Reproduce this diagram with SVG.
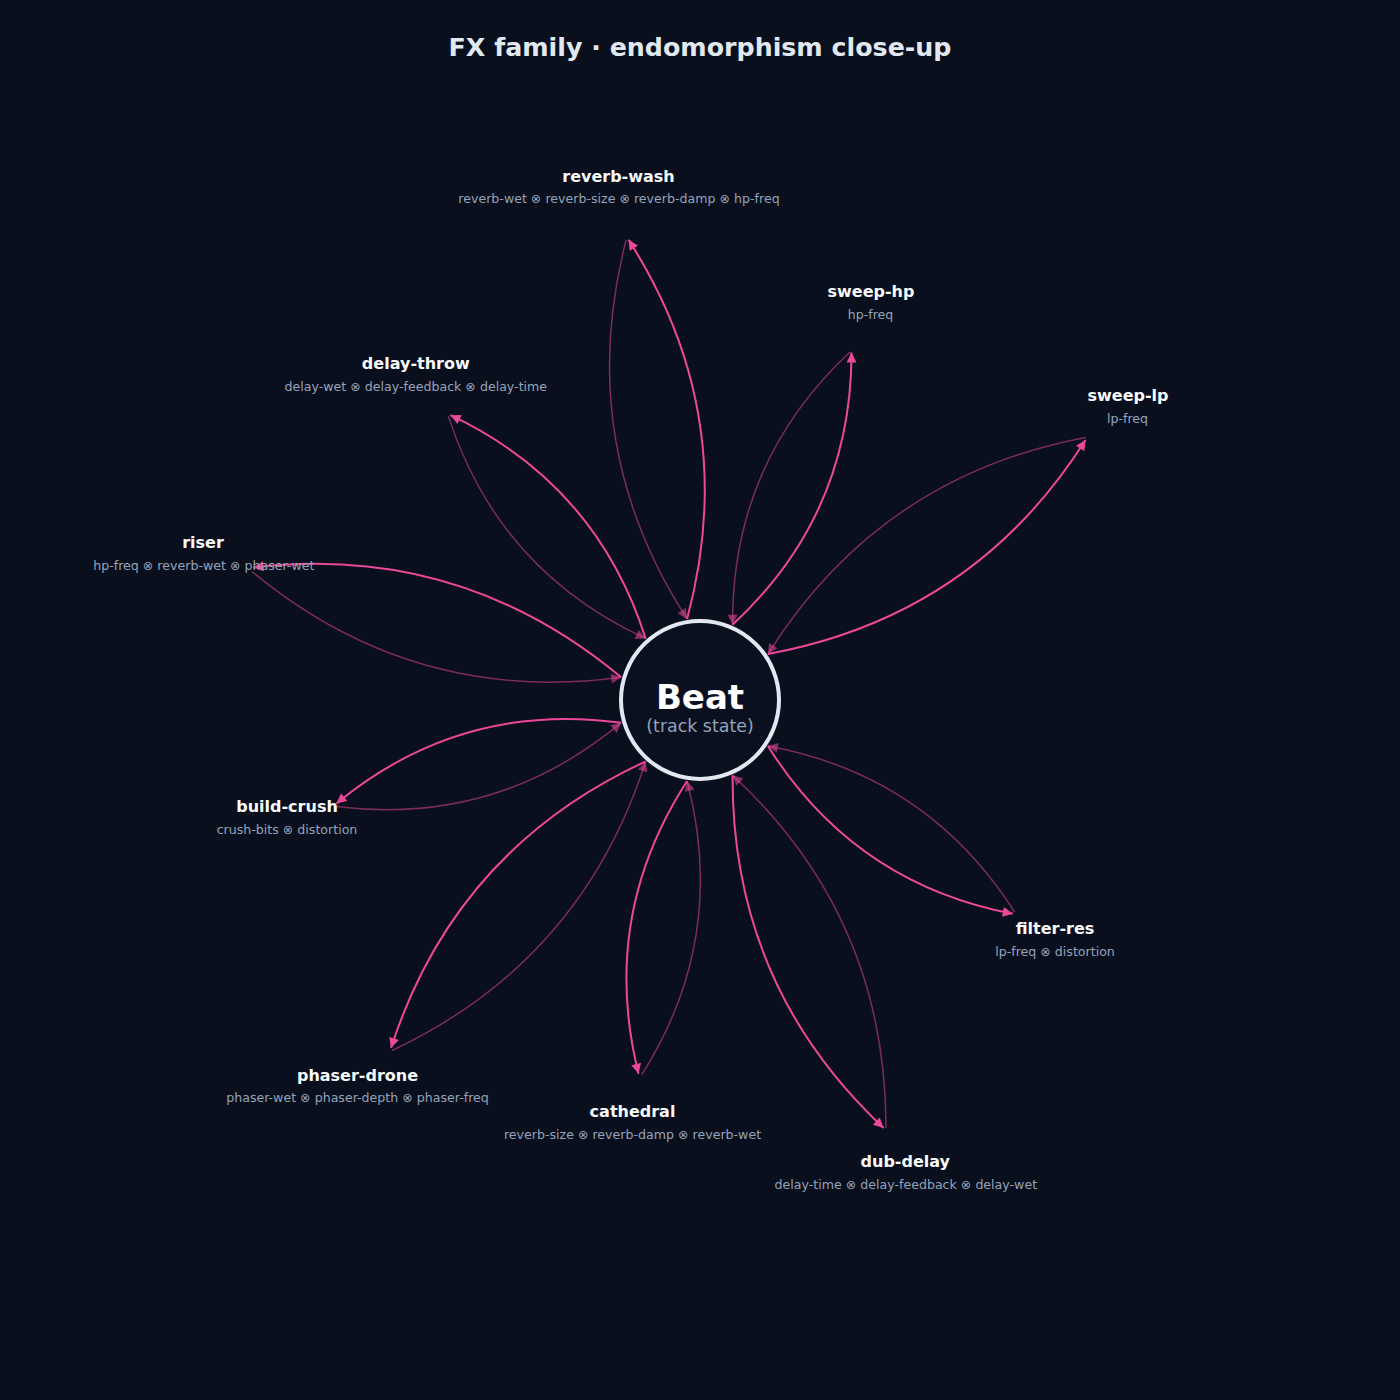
<svg xmlns="http://www.w3.org/2000/svg" width="1400" height="1400" viewBox="0 0 1400 1400">
  <defs>
    <marker id="ah" viewBox="0 0 10 10" refX="10" refY="5" markerUnits="userSpaceOnUse" markerWidth="10.5" markerHeight="10" orient="auto">
      <path d="M0,0 L10,5 L0,10 z" fill="#ec4899"/>
    </marker>
    <marker id="ahd" viewBox="0 0 10 10" refX="10" refY="5" markerUnits="userSpaceOnUse" markerWidth="10.5" markerHeight="10" orient="auto">
      <path d="M0,0 L10,5 L0,10 z" fill="#ec4899" fill-opacity="0.55"/>
    </marker>
    <style>
      .bg { fill: #0a0f1e; }
      .title { font-family: "DejaVu Sans", sans-serif; font-weight: bold; font-size: 25.3px; fill: #e2e8f0; text-anchor: middle; }
      .fwd { fill: none; stroke: #ec4899; stroke-width: 2; marker-end: url(#ah); }
      .back { fill: none; stroke: #ec4899; stroke-opacity: 0.5; stroke-width: 1.5; marker-end: url(#ahd); }
      .name { font-family: "DejaVu Sans", sans-serif; font-weight: bold; font-size: 16px; fill: #f8fafc; text-anchor: middle; }
      .sub { font-family: "DejaVu Sans", sans-serif; font-size: 12.6px; fill: #94a3b8; text-anchor: middle; }
      .core { fill: #0b1020; stroke: #e2e8f0; stroke-width: 4; }
      .beat { font-family: "DejaVu Sans", sans-serif; font-weight: bold; font-size: 34px; fill: #ffffff; text-anchor: middle; }
      .state { font-family: "DejaVu Sans", sans-serif; font-size: 17.4px; fill: #94a3b8; text-anchor: middle; }
    </style>
  </defs>
  <rect class="bg" x="0" y="0" width="1400" height="1400"/>
  <text class="title" x="700" y="56">FX family · endomorphism close-up</text>

  <g id="connectors">
    <path class="fwd" d="M687.1,619.0 Q741.5,416.1 628.5,239.8"/>
    <path class="back" d="M626.2,239.8 Q573.5,442.7 687.1,619.0"/>

    <path class="fwd" d="M732.6,624.7 Q851.5,514.4 851.5,352.6"/>
    <path class="back" d="M850.0,352.0 Q731.6,462.5 732.6,624.7"/>

    <path class="fwd" d="M767.9,654.0 Q974.2,616.1 1085.5,440.0"/>
    <path class="back" d="M1085.7,437.4 Q879.4,476.3 767.9,654.0"/>

    <path class="fwd" d="M767.9,746.0 Q854.1,883.4 1012.8,913.8"/>
    <path class="back" d="M1014.6,912.0 Q927.5,775.3 767.9,746.0"/>

    <path class="fwd" d="M732.6,775.3 Q731.3,985.0 883.6,1127.9"/>
    <path class="back" d="M886.0,1128.0 Q886.3,918.0 732.6,775.3"/>

    <path class="fwd" d="M687.1,781.0 Q599.2,917.4 638.6,1073.8"/>
    <path class="back" d="M641.8,1074.6 Q728.3,937.9 687.1,781.0"/>

    <path class="fwd" d="M645.7,761.4 Q455.2,849.2 391.0,1048.0"/>
    <path class="back" d="M392.0,1050.5 Q581.7,961.2 645.7,761.4"/>

    <path class="fwd" d="M621.2,722.7 Q460.4,701.0 336.5,803.5"/>
    <path class="back" d="M336.0,806.5 Q496.6,826.5 621.2,722.7"/>

    <path class="fwd" d="M621.2,677.3 Q460.0,543.1 253.5,567.5"/>
    <path class="back" d="M251.8,571.5 Q413.4,705.4 621.2,677.3"/>

    <path class="fwd" d="M645.7,638.6 Q596.3,484.0 450.5,415.2"/>
    <path class="back" d="M448.3,416.1 Q498.3,570.6 645.7,638.6"/>
  </g>

  <g id="node-beat">
    <circle class="core" cx="700" cy="700" r="79"/>
    <text class="beat" x="700" y="709">Beat</text>
    <text class="state" x="700" y="732">(track state)</text>
  </g>

  <g id="node-reverb-wash">
    <text class="name" x="618.5" y="181.5">reverb-wash</text>
    <text class="sub" x="619" y="202.5">reverb-wet ⊗ reverb-size ⊗ reverb-damp ⊗ hp-freq</text>
  </g>
  <g id="node-sweep-hp">
    <text class="name" x="871" y="297.3">sweep-hp</text>
    <text class="sub" x="870.5" y="318.5">hp-freq</text>
  </g>
  <g id="node-sweep-lp">
    <text class="name" x="1128" y="401.3">sweep-lp</text>
    <text class="sub" x="1127.5" y="422.5">lp-freq</text>
  </g>
  <g id="node-filter-res">
    <text class="name" x="1055" y="934">filter-res</text>
    <text class="sub" x="1055" y="955.5">lp-freq ⊗ distortion</text>
  </g>
  <g id="node-dub-delay">
    <text class="name" x="905.3" y="1167">dub-delay</text>
    <text class="sub" x="905.8" y="1188.5">delay-time ⊗ delay-feedback ⊗ delay-wet</text>
  </g>
  <g id="node-cathedral">
    <text class="name" x="632.5" y="1117">cathedral</text>
    <text class="sub" x="632.5" y="1138.5">reverb-size ⊗ reverb-damp ⊗ reverb-wet</text>
  </g>
  <g id="node-phaser-drone">
    <text class="name" x="357.5" y="1080.5">phaser-drone</text>
    <text class="sub" x="357.5" y="1101.8">phaser-wet ⊗ phaser-depth ⊗ phaser-freq</text>
  </g>
  <g id="node-build-crush">
    <text class="name" x="287" y="812.3">build-crush</text>
    <text class="sub" x="287" y="833.5">crush-bits ⊗ distortion</text>
  </g>
  <g id="node-riser">
    <text class="name" x="203" y="548.3">riser</text>
    <text class="sub" x="203.8" y="569.5">hp-freq ⊗ reverb-wet ⊗ phaser-wet</text>
  </g>
  <g id="node-delay-throw">
    <text class="name" x="415.8" y="369.3">delay-throw</text>
    <text class="sub" x="415.8" y="390.7">delay-wet ⊗ delay-feedback ⊗ delay-time</text>
  </g>
</svg>
